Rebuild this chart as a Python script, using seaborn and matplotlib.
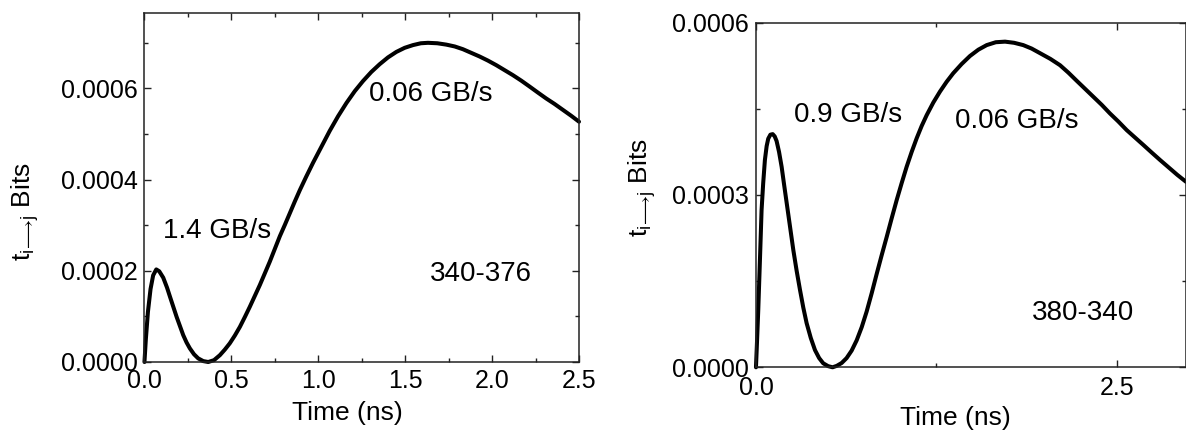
import seaborn as sns
import matplotlib.pyplot as plt
from matplotlib.ticker import MultipleLocator, FixedLocator, FormatStrFormatter

# values
# left panel: 340-376
t_left = [0.000, 0.008, 0.020, 0.035, 0.050, 0.068, 0.085, 0.108, 0.130, 0.147,
          0.166, 0.185, 0.204, 0.223, 0.242, 0.261, 0.285, 0.309, 0.338, 0.367,
          0.400, 0.434, 0.462, 0.491, 0.520, 0.549, 0.578, 0.606, 0.635, 0.664,
          0.692, 0.721, 0.750, 0.779, 0.808, 0.836, 0.865, 0.894, 0.930, 0.970,
          1.018, 1.066, 1.114, 1.162, 1.210, 1.257, 1.305, 1.353, 1.401, 1.449,
          1.497, 1.545, 1.590, 1.631, 1.685, 1.737, 1.785, 1.832, 1.880, 1.928,
          1.976, 2.024, 2.072, 2.120, 2.168, 2.216, 2.263, 2.311, 2.359, 2.407,
          2.455, 2.500]
bits_left = [0.0, 5.0e-5, 1.1e-4, 1.6e-4, 1.9e-4, 2.03e-4, 1.99e-4, 1.85e-4, 1.63e-4, 1.43e-4,
             1.21e-4, 9.9e-5, 7.9e-5, 5.9e-5, 4.3e-5, 3.0e-5, 1.7e-5, 8.0e-6, 2.0e-6, 0.0,
             4.0e-6, 1.5e-5, 2.7e-5, 4.1e-5, 5.8e-5, 7.7e-5, 9.9e-5, 1.21e-4, 1.45e-4, 1.69e-4,
             1.94e-4, 2.20e-4, 2.48e-4, 2.76e-4, 3.01e-4, 3.26e-4, 3.52e-4, 3.77e-4, 4.06e-4, 4.37e-4,
             4.72e-4, 5.07e-4, 5.39e-4, 5.68e-4, 5.94e-4, 6.16e-4, 6.36e-4, 6.53e-4, 6.68e-4, 6.80e-4,
             6.89e-4, 6.95e-4, 6.99e-4, 7.00e-4, 6.99e-4, 6.96e-4, 6.92e-4, 6.86e-4, 6.78e-4, 6.70e-4,
             6.61e-4, 6.51e-4, 6.40e-4, 6.29e-4, 6.17e-4, 6.04e-4, 5.91e-4, 5.78e-4, 5.66e-4, 5.53e-4,
             5.40e-4, 5.27e-4]

# right panel: 380-340
t_right = [0.000, 0.005, 0.016, 0.028, 0.039, 0.050, 0.062, 0.074, 0.085, 0.100,
           0.116, 0.130, 0.143, 0.160, 0.178, 0.195, 0.213, 0.236, 0.259, 0.282,
           0.305, 0.328, 0.351, 0.380, 0.409, 0.438, 0.466, 0.500, 0.531, 0.560,
           0.594, 0.628, 0.663, 0.698, 0.733, 0.767, 0.802, 0.836, 0.871, 0.906,
           0.940, 0.975, 1.010, 1.044, 1.079, 1.114, 1.148, 1.183, 1.229, 1.275,
           1.321, 1.367, 1.425, 1.483, 1.541, 1.599, 1.662, 1.726, 1.789, 1.852,
           1.910, 1.968, 2.040, 2.107, 2.165, 2.222, 2.280, 2.338, 2.396, 2.453,
           2.511, 2.569, 2.627, 2.685, 2.742, 2.800, 2.860, 2.920, 2.980]
bits_right = [0.0, 3.0e-5, 1.0e-4, 1.9e-4, 2.74e-4, 3.2e-4, 3.61e-4, 3.85e-4, 3.98e-4, 4.05e-4,
              4.06e-4, 4.02e-4, 3.94e-4, 3.75e-4, 3.49e-4, 3.18e-4, 2.86e-4, 2.45e-4, 2.04e-4, 1.68e-4,
              1.35e-4, 1.04e-4, 7.7e-5, 5.1e-5, 3.0e-5, 1.6e-5, 7.0e-6, 2.0e-6, 0.0, 2.5e-6,
              7.5e-6, 1.6e-5, 2.9e-5, 4.7e-5, 7.0e-5, 9.7e-5, 1.29e-4, 1.62e-4, 1.95e-4, 2.27e-4,
              2.59e-4, 2.91e-4, 3.21e-4, 3.49e-4, 3.75e-4, 3.99e-4, 4.20e-4, 4.39e-4, 4.61e-4, 4.80e-4,
              4.97e-4, 5.12e-4, 5.28e-4, 5.42e-4, 5.53e-4, 5.61e-4, 5.66e-4, 5.67e-4, 5.65e-4, 5.61e-4,
              5.55e-4, 5.47e-4, 5.37e-4, 5.26e-4, 5.13e-4, 4.99e-4, 4.85e-4, 4.71e-4, 4.57e-4, 4.42e-4,
              4.28e-4, 4.13e-4, 4.00e-4, 3.87e-4, 3.74e-4, 3.61e-4, 3.48e-4, 3.35e-4, 3.23e-4]

sns.set_style('ticks')
plt.rcParams['font.family'] = ['Liberation Sans', 'DejaVu Sans']
plt.rcParams['mathtext.fontset'] = 'custom'
plt.rcParams['mathtext.rm'] = 'Liberation Sans'
plt.rcParams['mathtext.it'] = 'Liberation Sans'
plt.rcParams['text.color'] = 'black'
plt.rcParams['axes.labelcolor'] = 'black'
plt.rcParams['xtick.color'] = 'black'
plt.rcParams['ytick.color'] = 'black'

fig = plt.figure(figsize=(11.86, 4.34), dpi=100)
ax1 = fig.add_axes([0.1218, 0.1659, 0.3664, 0.8048])
ax2 = fig.add_axes([0.6374, 0.1537, 0.3626, 0.7940])

ylab = r'$\mathrm{t}_{\mathrm{i}\!\longrightarrow\!\mathrm{j}}$ Bits'

for ax, t, b in [(ax1, t_left, bits_left), (ax2, t_right, bits_right)]:
    sns.lineplot(x=t, y=b, ax=ax, color='black', linewidth=2.9, sort=False)
    for l in ax.lines:
        l.set_clip_on(False)
    for s in ax.spines.values():
        s.set_linewidth(1.1)
        s.set_color('#222222')
    ax.tick_params(which='both', direction='in', top=True, right=True,
                   labelsize=18, color='#222222', labelcolor='black', width=1.0)
    ax.tick_params(which='major', length=5)
    ax.tick_params(which='minor', length=3)
    ax.yaxis.set_major_formatter(FormatStrFormatter('%.4f'))
    ax.xaxis.set_major_formatter(FormatStrFormatter('%.1f'))
    ax.set_xlabel('Time (ns)', fontsize=19, color='black')
    ax.set_ylabel(ylab, fontsize=19, color='black')

# left panel
ax1.set_xlim(0, 2.5)
ax1.set_ylim(0, 0.000766)
ax1.xaxis.set_major_locator(MultipleLocator(0.5))
ax1.xaxis.set_minor_locator(MultipleLocator(0.25))
ax1.yaxis.set_major_locator(MultipleLocator(0.0002))
ax1.yaxis.set_minor_locator(MultipleLocator(0.0001))
ax1.tick_params(axis='x', pad=5)
ax1.tick_params(axis='y', pad=5)
ax1.xaxis.set_label_coords(0.468, -0.113)
ax1.yaxis.set_label_coords(-0.238, 0.43)
ax1.text(0.415, 0.000287, '1.4 GB/s', fontsize=20, ha='center', va='center')
ax1.text(1.645, 0.000587, '0.06 GB/s', fontsize=20, ha='center', va='center')
ax1.text(1.933, 0.000193, '340-376', fontsize=20, ha='center', va='center')

# right panel
ax2.set_xlim(0, 2.98)
ax2.set_ylim(0, 0.0006)
ax2.xaxis.set_major_locator(FixedLocator([0.0, 2.5]))
ax2.xaxis.set_minor_locator(FixedLocator([1.25]))
ax2.yaxis.set_major_locator(MultipleLocator(0.0003))
ax2.yaxis.set_minor_locator(MultipleLocator(0.00015))
ax2.tick_params(axis='x', pad=6)
ax2.tick_params(axis='y', pad=5)
ax2.xaxis.set_label_coords(0.463, -0.113)
ax2.yaxis.set_label_coords(-0.228, 0.523)
ax2.text(0.638, 0.000439, '0.9 GB/s', fontsize=20, ha='center', va='center')
ax2.text(1.807, 0.000429, '0.06 GB/s', fontsize=20, ha='center', va='center')
ax2.text(2.266, 0.0000954, '380-340', fontsize=20, ha='center', va='center')

fig.savefig('out.png', dpi=100)
